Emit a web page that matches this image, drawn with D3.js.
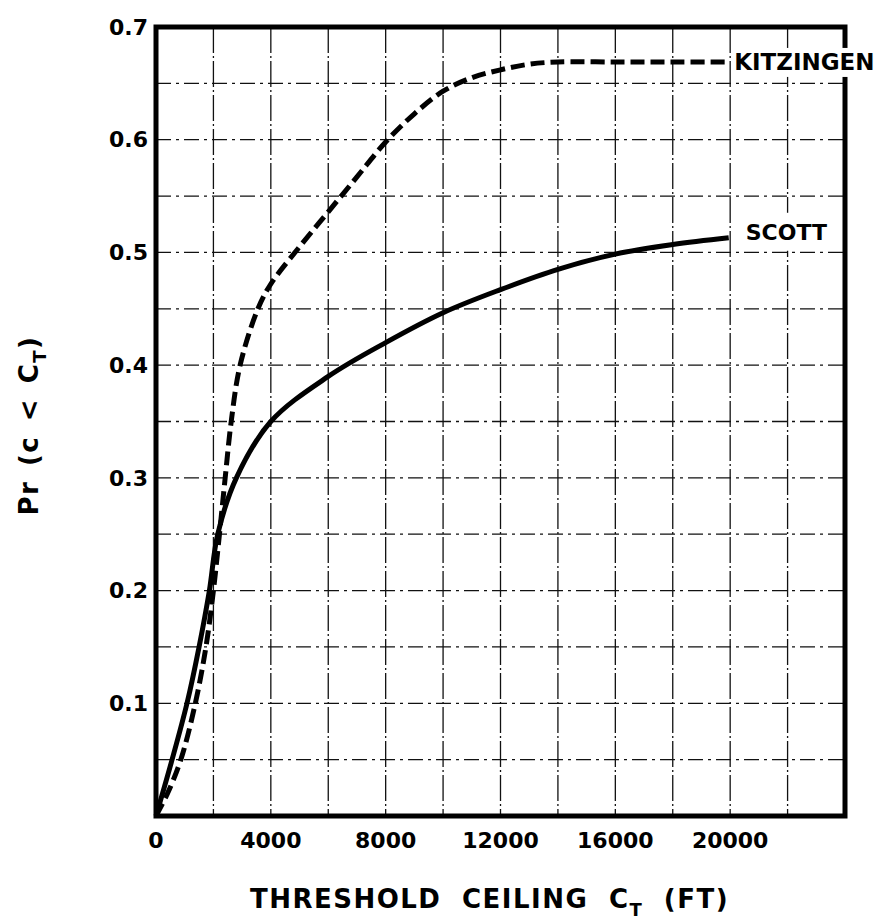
<!DOCTYPE html>
<html>
<head>
<meta charset="utf-8">
<script src="https://cdn.jsdelivr.net/npm/d3@7"></script>
<style>
  body { margin: 0; background: #fff; }
  text { font-family: "DejaVu Sans", sans-serif; font-weight: bold; fill: #000; }
</style>
</head>
<body>
<div id="chart"></div>
<script>
// ceiling threshold (ft) vs probability
const kitzingenCeil = [0, 400, 865, 1370, 1740, 2000, 2210, 2410, 2620, 2930, 3550, 4000, 5000, 6000, 7000, 8000, 9000, 10000, 11000, 12000, 13000, 14000, 16000, 18000, 20000]
const kitzingenPr   = [0, 0.02, 0.05, 0.10, 0.15, 0.20, 0.25, 0.30, 0.35, 0.40, 0.45, 0.472, 0.505, 0.536, 0.567, 0.598, 0.623, 0.643, 0.655, 0.662, 0.667, 0.669, 0.669, 0.669, 0.669]

const scottCeil = [0, 560, 1080, 1500, 1860, 2150, 2800, 4000, 6000, 8000, 10000, 12000, 14000, 16000, 18000, 19950]
const scottPr   = [0, 0.05, 0.10, 0.15, 0.20, 0.25, 0.30, 0.35, 0.39, 0.42, 0.4465, 0.467, 0.485, 0.4985, 0.507, 0.513]

const xTicks = [0, 4000, 8000, 12000, 16000, 20000]
const yTicks = [0.1, 0.2, 0.3, 0.4, 0.5, 0.6, 0.7]
const xGrid = [2000, 4000, 6000, 8000, 10000, 12000, 14000, 16000, 18000, 20000, 22000]
const yGrid = [0.05, 0.1, 0.15, 0.2, 0.25, 0.3, 0.35, 0.4, 0.45, 0.5, 0.55, 0.6, 0.65]

const MARGIN = { TOP: 27, BOTTOM: 108, LEFT: 156, RIGHT: 31 }
const W = 876, H = 924
const WIDTH = W - MARGIN.LEFT - MARGIN.RIGHT
const HEIGHT = H - MARGIN.TOP - MARGIN.BOTTOM

const svg = d3.select("#chart").append("svg")
  .attr("width", W)
  .attr("height", H)

const g = svg.append("g")
  .attr("transform", `translate(${MARGIN.LEFT}, ${MARGIN.TOP})`)

const x = d3.scaleLinear().domain([0, 24000]).range([0, WIDTH])
const y = d3.scaleLinear().domain([0, 0.7]).range([HEIGHT, 0])

// grid
g.append("g").selectAll("line")
  .data(xGrid)
  .join("line")
    .attr("x1", d => x(d)).attr("x2", d => x(d))
    .attr("y1", 0).attr("y2", HEIGHT)
    .attr("stroke", "#111")
    .attr("stroke-width", 1.3)
    .attr("stroke-dasharray", "26,3,2,3")

g.append("g").selectAll("line")
  .data(yGrid)
  .join("line")
    .attr("x1", 0).attr("x2", WIDTH)
    .attr("y1", d => y(d)).attr("y2", d => y(d))
    .attr("stroke", "#111")
    .attr("stroke-width", 1.3)
    .attr("stroke-dasharray", "15,5,3,5")

// frame
g.append("rect")
  .attr("width", WIDTH)
  .attr("height", HEIGHT)
  .attr("fill", "none")
  .attr("stroke", "#000")
  .attr("stroke-width", 5)

// curves
const line = d3.line()
  .x(d => x(d[0]))
  .y(d => y(d[1]))
  .curve(d3.curveCatmullRom.alpha(0.5))

g.append("path")
  .datum(d3.zip(scottCeil, scottPr))
  .attr("d", line)
  .attr("fill", "none")
  .attr("stroke", "#000")
  .attr("stroke-width", 5)

g.append("path")
  .datum(d3.zip(kitzingenCeil, kitzingenPr))
  .attr("d", line)
  .attr("fill", "none")
  .attr("stroke", "#000")
  .attr("stroke-width", 5)
  .attr("stroke-dasharray", "14,6")

// curve labels, white boxes knock out the grid and frame behind them
const kLast = kitzingenCeil.length - 1
g.append("rect")
  .attr("x", x(kitzingenCeil[kLast]) + 3)
  .attr("y", y(kitzingenPr[kLast]) - 14)
  .attr("width", 150).attr("height", 29)
  .attr("fill", "#fff")
g.append("text")
  .attr("x", x(kitzingenCeil[kLast]) + 4)
  .attr("y", y(kitzingenPr[kLast]))
  .attr("dy", "0.35em")
  .attr("font-size", "23px")
  .text("KITZINGEN")

const sLast = scottCeil.length - 1
g.append("rect")
  .attr("x", x(scottCeil[sLast]) + 10)
  .attr("y", y(scottPr[sLast]) - 25)
  .attr("width", 94).attr("height", 38)
  .attr("fill", "#fff")
g.append("text")
  .attr("x", x(scottCeil[sLast]) + 17)
  .attr("y", y(scottPr[sLast]) - 5)
  .attr("dy", "0.35em")
  .attr("font-size", "22px")
  .text("SCOTT")

// tick labels
g.append("g").selectAll("text")
  .data(xTicks)
  .join("text")
    .attr("x", d => x(d))
    .attr("y", HEIGHT + 32)
    .attr("text-anchor", "middle")
    .attr("font-size", "22px")
    .text(d => d)

g.append("g").selectAll("text")
  .data(yTicks)
  .join("text")
    .attr("x", -8)
    .attr("y", d => y(d))
    .attr("dy", "0.35em")
    .attr("text-anchor", "end")
    .attr("font-size", "22px")
    .text(d => d.toFixed(1))

// axis titles
const xTitle = g.append("text")
  .attr("x", WIDTH / 2 - 11)
  .attr("y", HEIGHT + 92)
  .attr("text-anchor", "middle")
  .attr("font-size", "26px")
  .attr("letter-spacing", "1.5px")
  .attr("word-spacing", "10px")
xTitle.append("tspan").text("THRESHOLD CEILING C")
xTitle.append("tspan").attr("dy", 8).attr("font-size", "18px").text("T")
xTitle.append("tspan").attr("dy", -8).text(" (FT)")

const yTitle = g.append("text")
  .attr("transform", `translate(${-MARGIN.LEFT + 38}, ${HEIGHT / 2 + 4}) rotate(-90)`)
  .attr("text-anchor", "middle")
  .attr("font-size", "26px")
  .attr("letter-spacing", "1.5px")
  .attr("word-spacing", "4px")
yTitle.append("tspan").text("Pr (c < C")
yTitle.append("tspan").attr("dy", 8).attr("font-size", "18px").text("T")
yTitle.append("tspan").attr("dy", -8).text(")")
</script>
</body>
</html>
